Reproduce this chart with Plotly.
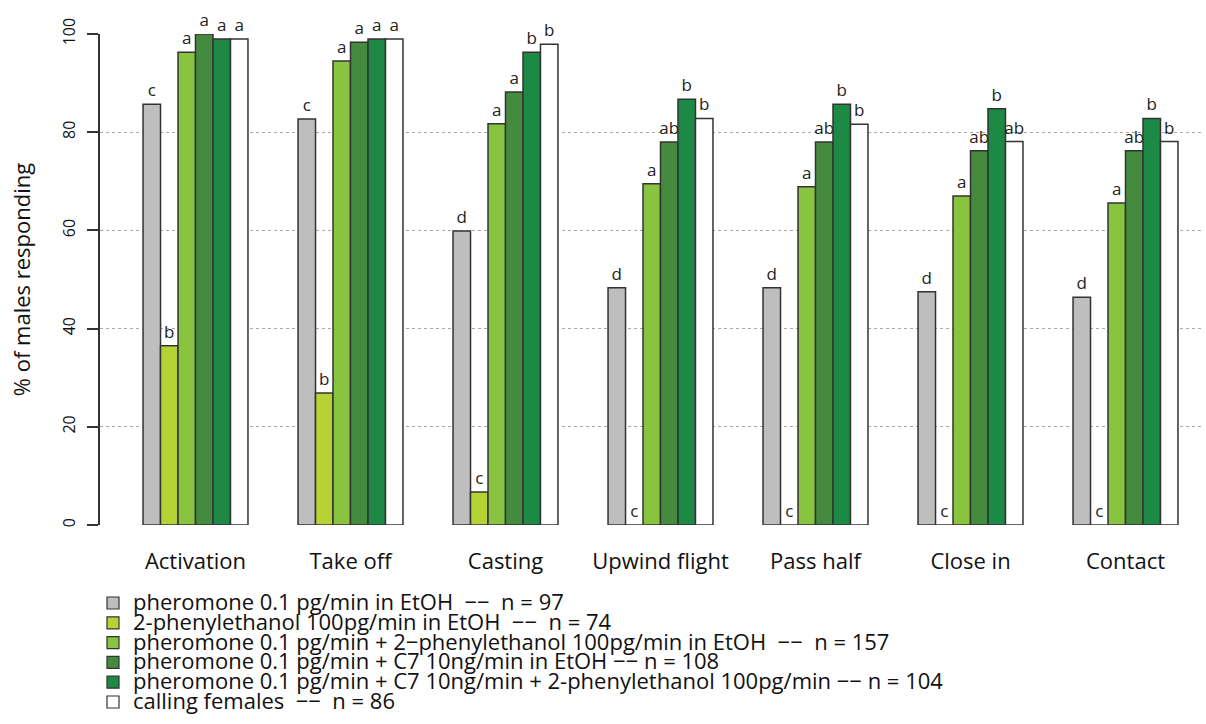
import plotly.graph_objects as go

stages = ["Activation", "Take off", "Casting", "Upwind flight", "Pass half", "Close in", "Contact"]

treatments = [
    "pheromone 0.1 pg/min in EtOH\u00a0 \u2212\u2212\u00a0 n = 97",
    "2-phenylethanol 100pg/min in EtOH\u00a0 \u2212\u2212\u00a0 n = 74",
    "pheromone 0.1 pg/min + 2\u2212phenylethanol 100pg/min in EtOH\u00a0 \u2212\u2212\u00a0 n = 157",
    "pheromone 0.1 pg/min + C7 10ng/min in EtOH \u2212\u2212 n = 108",
    "pheromone 0.1 pg/min + C7 10ng/min + 2-phenylethanol 100pg/min \u2212\u2212 n = 104",
    "calling females\u00a0 \u2212\u2212\u00a0 n = 86",
]

pheromone = [85.7, 82.7, 59.9, 48.3, 48.3, 47.5, 46.4]
phenylethanol = [36.5, 26.9, 6.7, 0, 0, 0, 0]
pher_phen = [96.3, 94.5, 81.7, 69.5, 68.9, 67.0, 65.6]
pher_c7 = [100.0, 98.3, 88.2, 78.0, 78.0, 76.2, 76.2]
pher_c7_phen = [99.0, 99.0, 96.3, 86.7, 85.7, 84.8, 82.8]
females = [99.0, 99.0, 97.9, 82.8, 81.6, 78.1, 78.1]

letters_pheromone = ["c", "c", "d", "d", "d", "d", "d"]
letters_phenylethanol = ["b", "b", "c", "c", "c", "c", "c"]
letters_pher_phen = ["a", "a", "a", "a", "a", "a", "a"]
letters_pher_c7 = ["a", "a", "a", "ab", "ab", "ab", "ab"]
letters_pher_c7_phen = ["a", "a", "b", "b", "b", "b", "b"]
letters_females = ["a", "a", "b", "b", "b", "ab", "b"]

y_ticks = [0, 20, 40, 60, 80, 100]

series = [pheromone, phenylethanol, pher_phen, pher_c7, pher_c7_phen, females]
letters = [letters_pheromone, letters_phenylethanol, letters_pher_phen,
           letters_pher_c7, letters_pher_c7_phen, letters_females]
colors = ["#BEBEBE", "#B5D334", "#88C440", "#458B3F", "#1C8A45", "#FFFFFF"]

FONT = "Open Sans"

fig = go.Figure()
for name, vals, labs, col in zip(treatments, series, letters, colors):
    fig.add_trace(go.Bar(
        x=stages, y=vals, name=name, text=labs,
        textposition="outside", cliponaxis=False, constraintext="none",
        textfont=dict(family=FONT, size=17, color="#222222"),
        marker=dict(color=col, line=dict(color="#333333", width=1.5)),
        showlegend=False,
    ))

W, H = 1206, 724
ml, mr, mt, mb = 100, 3, 34, 199
pw = W - ml - mr
ph = H - mt - mb

# manual legend (R style, tight line spacing)
for i, (name, col) in enumerate(zip(treatments, colors)):
    yc = 603 + 19.8 * i
    py = (H - mb - yc) / ph
    fig.add_shape(type="rect", xref="paper", yref="paper",
                  xsizemode="pixel", ysizemode="pixel",
                  xanchor=(113 - ml) / pw, yanchor=py,
                  x0=-6, x1=6, y0=-6, y1=6,
                  fillcolor=col, line=dict(color="#333333", width=1.2))
    fig.add_annotation(text=name, xref="paper", yref="paper",
                       x=(131 - ml) / pw, y=py, xanchor="left", yanchor="middle",
                       showarrow=False, yshift=2,
                       font=dict(family=FONT, size=22, color="#111111"))

fig.update_layout(
    width=W, height=H,
    margin=dict(l=ml, r=mr, t=mt, b=mb),
    paper_bgcolor="white", plot_bgcolor="white",
    barmode="group", bargap=0.323, bargroupgap=0,
    font=dict(family=FONT, color="#111111"),
    xaxis=dict(
        type="category", range=[-0.5 - 18 / 155, 6.5],
        showline=False, ticks="", showgrid=False,
        tickfont=dict(family=FONT, size=22, color="#111111"),
        ticklabelstandoff=21,
    ),
    yaxis=dict(
        range=[0, 100], tickvals=y_ticks, tickangle=-90,
        showline=True, linecolor="#333333", linewidth=1.5,
        ticks="outside", ticklen=11, tickwidth=1.5, tickcolor="#333333",
        showgrid=True, gridcolor="#aaaaaa", griddash="dot", gridwidth=1,
        zeroline=False,
        tickfont=dict(family=FONT, size=16, color="#111111"),
        ticklabelstandoff=6,
        title=dict(text="% of males responding", standoff=21,
                   font=dict(family=FONT, size=22, color="#111111")),
    ),
)

fig.write_html("out.html")
